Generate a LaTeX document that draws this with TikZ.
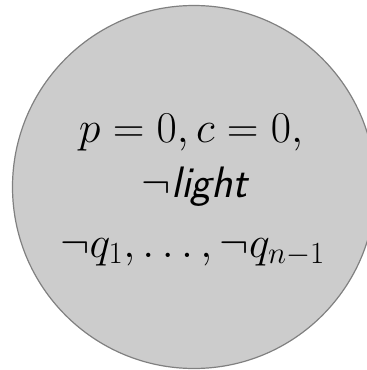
\RequirePackage{fix-cm}
\documentclass[tikz,border=0pt]{standalone}
\begin{document}
\begin{tikzpicture}[x=1pt,y=-1pt,
  statecirc/.style={circle,draw=black!50,fill=black!20,line width=1.2pt,minimum size=363pt,inner sep=0pt},
  statetext/.style={anchor=base,inner sep=0pt,font=\fontsize{44}{60}\selectfont}]
\useasboundingbox (0,0) rectangle (367,370);
\node[statecirc] (s) at (194,187) {};
\node[statetext] (l1) at (191,142) {$p=0,c=0,$};
\node[statetext] (l2) at (196,197) {$\neg$\textsf{\textit{light}}};
\node[statetext] (l3) at (192.5,257) {$\neg q_1,\ldots,\neg q_{n-1}$};
\end{tikzpicture}
\end{document}
